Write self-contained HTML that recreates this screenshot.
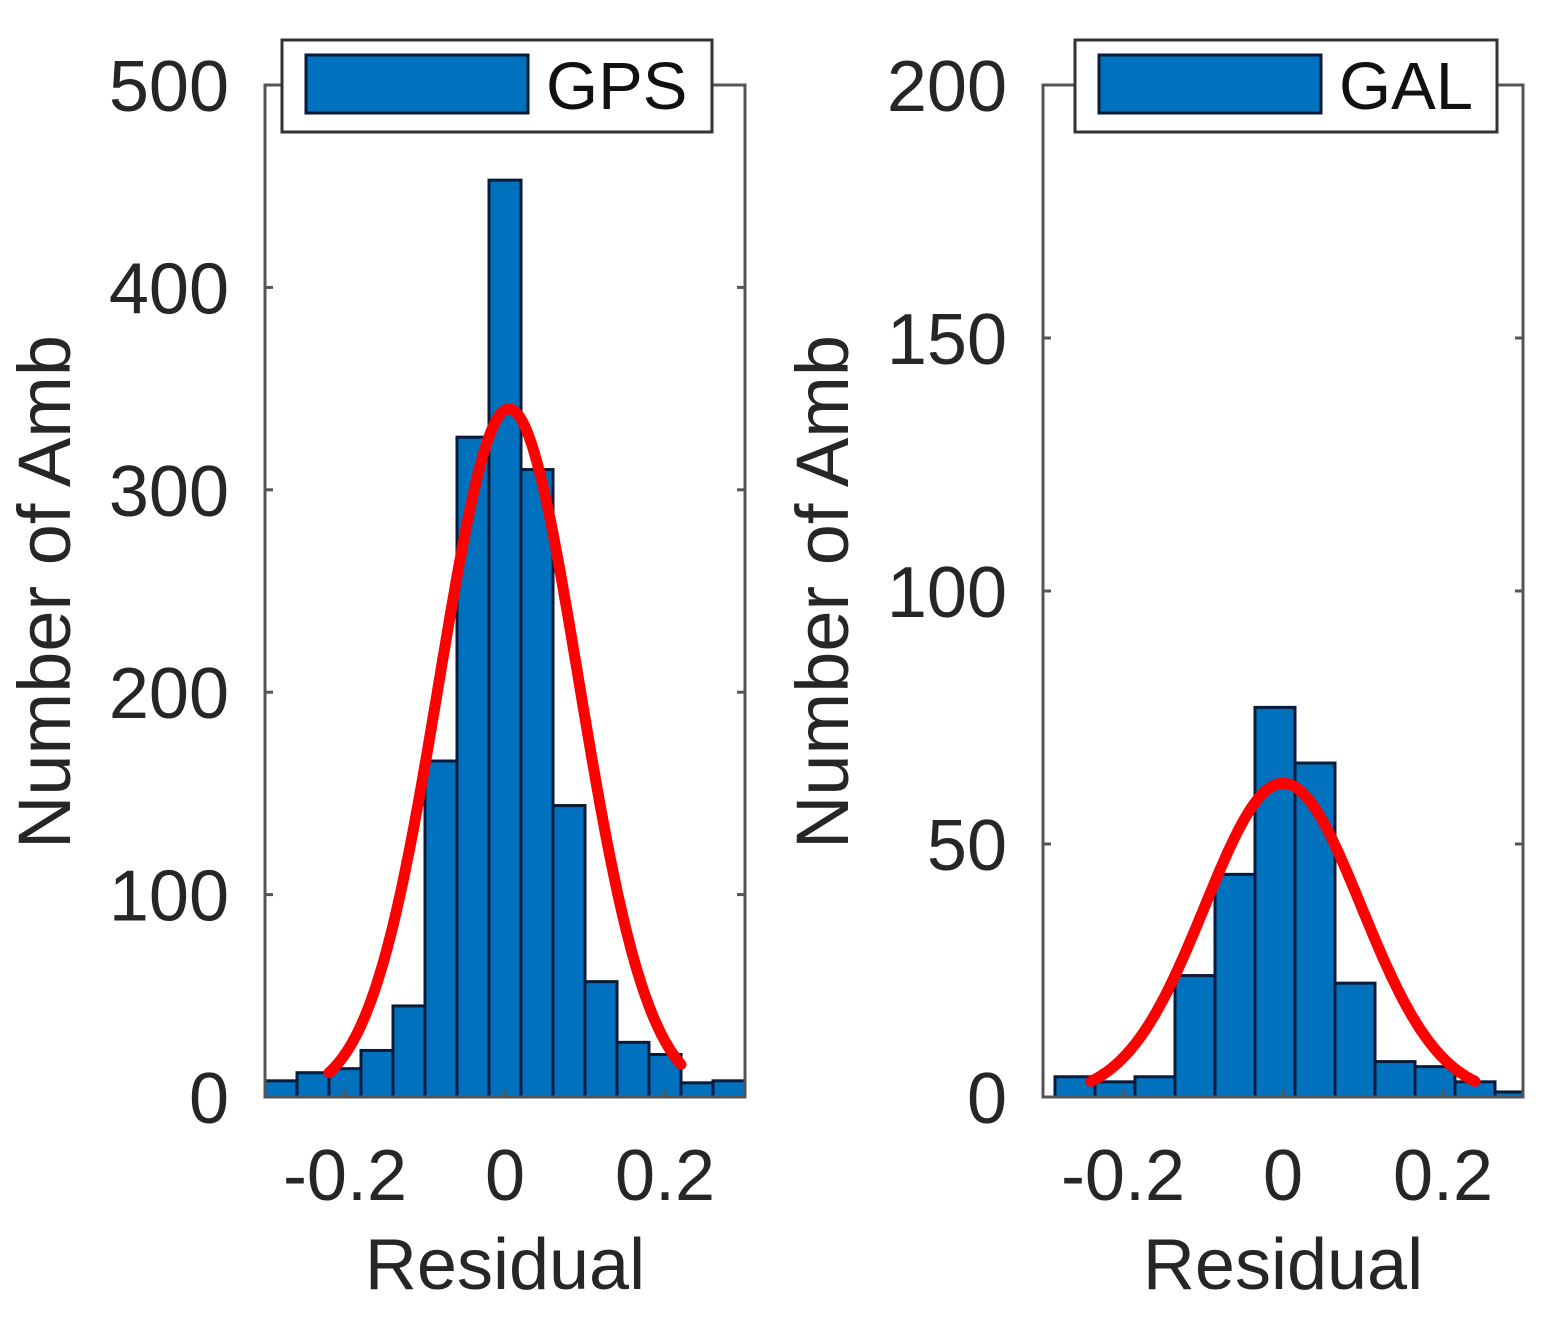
<!DOCTYPE html>
<html><head><meta charset="utf-8"><style>
body{margin:0;background:#fff;}
svg{display:block;font-family:"Liberation Sans",Arial,sans-serif;}
</style></head><body>
<svg id="c" width="1548" height="1323" viewBox="0 0 1548 1323"></svg>
<script>
const gpsEdgeStart = -0.30, gpsBinWidth = 0.04;
const gpsCounts = [8,12,14,23,45,166,326,453,310,144,57,27,21,7,8];
const gpsFit = {mu:0.005, sigma:0.087, peak:340, from:-0.22, to:0.22};
const gpsYTicks = [0,100,200,300,400,500];
const galEdgeStart = -0.285, galBinWidth = 0.05;
const galCounts = [4,3,4,24,44,77,66,22.5,7,6,3,1];
const galFit = {mu:0.0, sigma:0.098, peak:62, from:-0.24, to:0.24};
const galYTicks = [0,50,100,150,200];
const xTicks = [-0.2,0,0.2];

const NS='http://www.w3.org/2000/svg';
const svg=document.getElementById('c');
function mk(tag,attrs,parent){const e=document.createElementNS(NS,tag);for(const k in attrs)e.setAttribute(k,attrs[k]);(parent||svg).appendChild(e);return e;}

function panel(o){
  const g=mk('g',{});
  
  
  const L=o.x0,R=o.x1,T=85,B=1097;
  const sx=v=>L+(v-(-0.3))/0.6*(R-L);
  const sy=v=>B-v/o.ymax*(B-T);
  o.counts.forEach((c,i)=>{
    const a=Math.max(o.start+i*o.bw,-0.3), b=Math.min(o.start+(i+1)*o.bw,0.3);
    const r=mk('rect',{x:sx(a),y:sy(c),width:sx(b)-sx(a),height:B-sy(c),fill:'#0072BD',stroke:'#0a1a3a','stroke-width':3},g);
    
    
  });
  let d='';
  for(let k=0;k<=200;k++){const x=o.fit.from+(o.fit.to-o.fit.from)*k/200;const y=o.fit.peak*Math.exp(-0.5*Math.pow((x-o.fit.mu)/o.fit.sigma,2));d+=(k?'L':'M')+sx(x).toFixed(1)+','+sy(y).toFixed(1);}
  const p=mk('path',{d:d,fill:'none',stroke:'#ff0000','stroke-width':11,'stroke-linecap':'round'},g);
  
  
  const ax=mk('rect',{x:L,y:T,width:R-L,height:B-T,fill:'none',stroke:'#555','stroke-width':3},g);
  
  
  o.yticks.forEach(v=>{
    mk('line',{x1:L,x2:L+8,y1:sy(v),y2:sy(v),stroke:'#555','stroke-width':3},g);
    mk('line',{x1:R,x2:R-8,y1:sy(v),y2:sy(v),stroke:'#555','stroke-width':3},g);
    const t=mk('text',{x:L-36,y:sy(v)+26,'text-anchor':'end','font-size':72,fill:'#262626'},g);
    t.textContent=v;
    
    
  });
  xTicks.forEach(v=>{
    mk('line',{x1:sx(v),x2:sx(v),y1:B,y2:B-8,stroke:'#555','stroke-width':3},g);
    const t=mk('text',{x:sx(v),y:1200,'text-anchor':'middle','font-size':72,fill:'#262626'},g);
    t.textContent=v===0?'0':v.toFixed(1);
    
    
  });
  const xl=mk('text',{x:(L+R)/2,y:1289,'text-anchor':'middle','font-size':72,fill:'#262626'},g);
  xl.textContent='Residual';
  
  
  const yl=mk('text',{x:0,y:0,'text-anchor':'middle','font-size':74,fill:'#262626',transform:'translate('+(o.ylx)+',592) rotate(-90)'},g);
  yl.textContent='Number of Amb';
  
  
  const lg=mk('g',{},g);
  
  
  mk('rect',{x:o.lx,y:40,width:o.lw,height:92,fill:'#fff',stroke:'#333','stroke-width':3},lg);
  mk('rect',{x:o.lx+24,y:55,width:222,height:58,fill:'#0072BD',stroke:'#0a1a3a','stroke-width':3},lg);
  const lt=mk('text',{x:o.lx+264,y:109,'font-size':67,fill:'#111'},lg);
  lt.textContent=o.label;
  
  
}
panel({name:'gps',x0:265,x1:745,ymax:500,counts:gpsCounts,start:gpsEdgeStart,bw:gpsBinWidth,fit:gpsFit,yticks:gpsYTicks,ylx:70,lx:282,lw:430,label:'GPS'});
panel({name:'gal',x0:1043,x1:1523,ymax:200,counts:galCounts,start:galEdgeStart,bw:galBinWidth,fit:galFit,yticks:galYTicks,ylx:848,lx:1075,lw:422,label:'GAL'});
</script>
</body></html>
